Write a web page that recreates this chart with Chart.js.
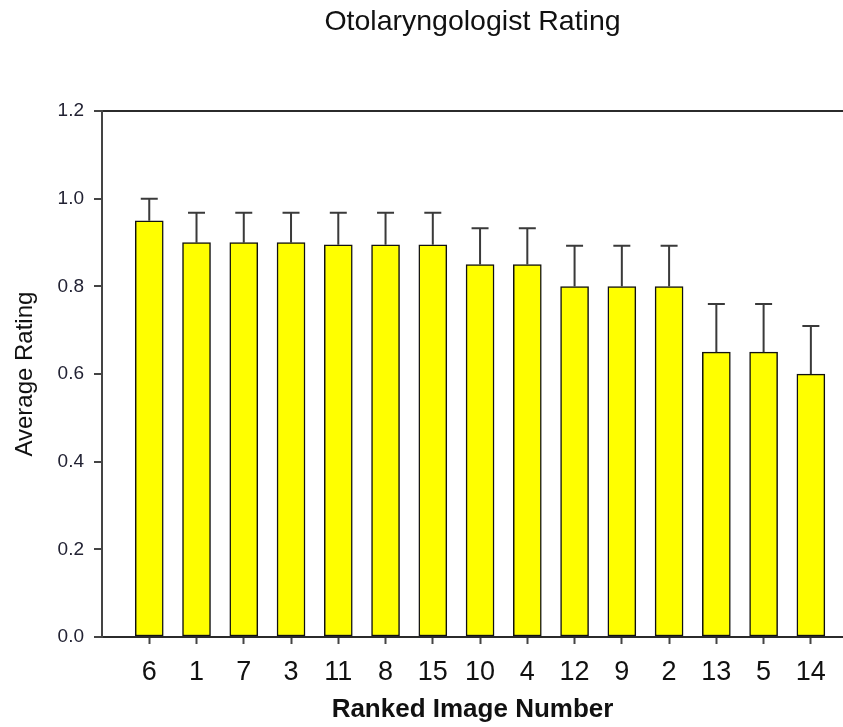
<!DOCTYPE html>
<html>
<head>
<meta charset="utf-8">
<script src="https://cdn.jsdelivr.net/npm/chart.js@4.4.1/dist/chart.umd.min.js"></script>
<style>
    html, body { margin: 0; padding: 0; background: #ffffff; }
    #wrap { width: 843px; height: 727px; }
</style>
</head>
<body>
<div id="wrap"><canvas id="ratingChart"></canvas></div>
<script>
// Ranked image numbers (x axis order)
const imageLabels = ['6', '1', '7', '3', '11', '8', '15', '10', '4', '12', '9', '2', '13', '5', '14'];

// Average rating per image
const avgRating = [0.95, 0.90, 0.90, 0.90, 0.895, 0.895, 0.895, 0.85, 0.85, 0.80, 0.80, 0.80, 0.65, 0.65, 0.60];

// Upper error (added on top of bar)
const ratingError = [0.05, 0.068, 0.068, 0.068, 0.073, 0.073, 0.073, 0.083, 0.083, 0.093, 0.093, 0.093, 0.11, 0.11, 0.11];

// Y axis ticks
const yTicks = [0.0, 0.2, 0.4, 0.6, 0.8, 1.0, 1.2];

const lineColor = '#2b2b2b';

// Draw upward error bars with caps
const errorBarPlugin = {
    id: 'errorBars',
    afterDatasetsDraw(chart) {
        const xScale = chart.scales.x;
        const yScale = chart.scales.y;
        const ctx = chart.ctx;
        ctx.save();
        ctx.strokeStyle = '#3a3a3a';
        ctx.lineWidth = 2;
        avgRating.forEach((v, i) => {
            const x = xScale.getPixelForValue(i + 1);
            const yBar = yScale.getPixelForValue(v);
            const yTop = yScale.getPixelForValue(v + ratingError[i]);
            ctx.beginPath();
            ctx.moveTo(x, yBar);
            ctx.lineTo(x, yTop);
            ctx.moveTo(x - 8.5, yTop);
            ctx.lineTo(x + 8.5, yTop);
            ctx.stroke();
        });
        ctx.restore();
    }
};

const ctx = document.getElementById('ratingChart');

new Chart(ctx, {
    type: 'bar',
    data: {
        datasets: [{
            label: 'Average Rating',
            data: avgRating.map((v, i) => ({ x: i + 1, y: v })),
            backgroundColor: '#ffff00',
            borderColor: '#111111',
            borderWidth: 1.5,
            borderSkipped: false,
            barThickness: 28
        }]
    },
    options: {
        responsive: true,
        maintainAspectRatio: false,
        animation: false,
        layout: {
            padding: { top: 5, right: 0, bottom: 2, left: 0 }
        },
        plugins: {
            legend: { display: false },
            tooltip: { enabled: false },
            title: {
                display: true,
                fullSize: false,
                text: 'Otolaryngologist Rating',
                color: '#111111',
                font: { family: 'Liberation Sans, Arial, sans-serif', size: 28.5, weight: 'normal' },
                padding: { top: 0, bottom: 72 }
            }
        },
        scales: {
            x: {
                type: 'linear',
                offset: false,
                min: 0,
                max: 15.68,
                afterBuildTicks: (axis) => {
                    axis.ticks = imageLabels.map((_, i) => ({ value: i + 1 }));
                },
                afterFit: (axis) => { axis.height = 88; },
                ticks: {
                    autoSkip: false,
                    maxRotation: 0,
                    padding: 12,
                    color: '#111111',
                    font: { family: 'Liberation Sans, Arial, sans-serif', size: 27 },
                    callback: (value) => imageLabels[value - 1] || ''
                },
                grid: {
                    offset: false,
                    drawOnChartArea: false,
                    drawTicks: true,
                    tickLength: 7,
                    tickColor: '#444444',
                    tickWidth: 2
                },
                border: { display: true, color: lineColor, width: 2 },
                title: {
                    display: true,
                    text: 'Ranked Image Number',
                    color: '#111111',
                    font: { family: 'Liberation Sans, Arial, sans-serif', size: 26, weight: 'bold' },
                    padding: { top: 0, bottom: 0 }
                }
            },
            y: {
                min: 0,
                max: 1.2,
                afterBuildTicks: (axis) => {
                    axis.ticks = yTicks.map(v => ({ value: v }));
                },
                afterFit: (axis) => { axis.width = 102; },
                ticks: {
                    padding: 10,
                    color: '#222233',
                    font: { family: 'Liberation Sans, Arial, sans-serif', size: 19 },
                    callback: (value) => Number(value).toFixed(1)
                },
                grid: {
                    drawTicks: true,
                    tickLength: 8,
                    tickWidth: 2,
                    tickColor: '#444444',
                    lineWidth: 2,
                    color: (c) => (c.tick && (c.tick.value === 1.2 || c.tick.value === 0) ? lineColor : 'rgba(0,0,0,0)')
                },
                border: { display: true, color: '#444444', width: 2 },
                title: {
                    display: true,
                    text: 'Average Rating',
                    color: '#111111',
                    font: { family: 'Liberation Sans, Arial, sans-serif', size: 24, weight: 'normal' },
                    padding: { top: 11, bottom: 0 }
                }
            }
        }
    },
    plugins: [errorBarPlugin]
});
</script>
</body>
</html>
